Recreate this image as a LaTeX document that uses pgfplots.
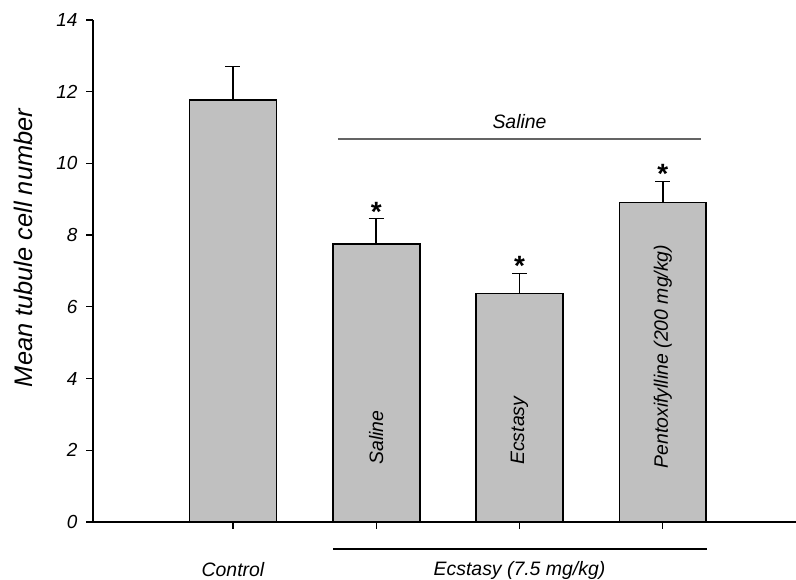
\documentclass[border=0pt]{standalone}
\usepackage{pgfplots}
\pgfplotsset{compat=1.18}
\usepackage{fontspec}
\setmainfont{Liberation Sans}
\definecolor{barfill}{RGB}{192,192,192}
\definecolor{lin}{RGB}{100,100,100}
\newcommand{\fs}{\fontsize{19.5}{22}\selectfont\itshape}
\pgfplotstableread{
x y e
0 11.77 0.93
1 7.75 0.71
2 6.37 0.56
3 8.91 0.59
}\datatab
\begin{document}
\begin{tikzpicture}[x=1bp,y=1bp]
\useasboundingbox (0,0) rectangle (796,580);
\node[rotate=90, font=\fontsize{25.5}{28}\selectfont\itshape] at (23,332) {Mean tubule cell number};
\begin{axis}[at={(93bp,58bp)}, anchor=south west, scale only axis,
  width=703bp, height=502bp,
  xmin=-0.977, xmax=3.93, ymin=0, ymax=14,
  axis x line=bottom, axis y line=left,
  axis line style={line width=1.4pt, -},
  tick align=outside, major tick length=7bp,
  tick style={black, line width=1.3pt},
  xtick={0,1,2,3}, xticklabels={,,,},
  ytick={0,2,...,14},
  yticklabel style={font=\fontsize{19}{21}\selectfont\itshape, xshift=-5bp},
  /pgf/number format/assume math mode=true,
  clip=false]
\addplot[ybar, bar width=0.607, fill=barfill, draw=black, line width=1.6pt,
  error bars/.cd, y dir=plus, y explicit,
  error bar style={line width=1.6pt, black},
  error mark options={rotate=90, line width=1.6pt, mark size=7.5bp, black}]
  table[x=x, y=y, y error=e] {\datatab};
\node[font=\bfseries\fontsize{28}{30}\selectfont, anchor=center] at (axis cs:1,8.66) {*};
\node[font=\bfseries\fontsize{28}{30}\selectfont, anchor=center] at (axis cs:2,7.13) {*};
\node[font=\bfseries\fontsize{28}{30}\selectfont, anchor=center] at (axis cs:3,9.70) {*};
\draw[lin, line width=1.3pt] (axis cs:0.733,10.68) -- (axis cs:3.27,10.68);
\node[font=\fs] at (axis cs:2.0,11.18) {Saline};
\node[rotate=90, anchor=west, font=\fs] at (axis cs:1,1.5) {Saline};
\node[rotate=90, anchor=west, font=\fs] at (axis cs:2,1.5) {Ecstasy};
\node[rotate=90, anchor=west, font=\fs] at (axis cs:3,1.4) {Pentoxifylline (200 mg/kg)};
\draw[black, line width=1.1bp] (axis cs:0.70,-0.753) -- (axis cs:3.31,-0.753);
\node[font=\fs, inner sep=0pt] at (axis cs:0,-1.32) {Control};
\node[font=\fs, inner sep=0pt] at (axis cs:2,-1.34) {Ecstasy (7.5 mg/kg)};
\end{axis}
\end{tikzpicture}
\end{document}
